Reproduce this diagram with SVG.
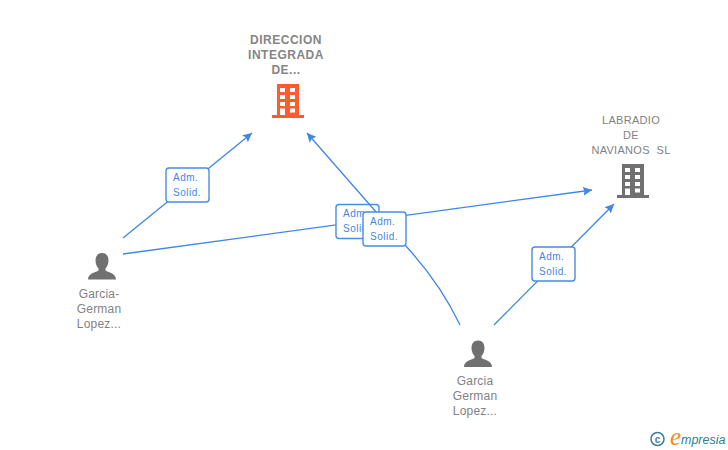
<svg xmlns="http://www.w3.org/2000/svg" width="728" height="450" viewBox="0 0 728 450">
<style>
.e{fill:none;stroke:#3f86e6;stroke-width:1.3}
.b{fill:#fff;stroke:#4a8be6;stroke-width:1.4}
.l{font:10px "Liberation Sans",Arial,sans-serif;fill:#3f86e6;letter-spacing:.5px}
.n{font:12px "Liberation Sans",Arial,sans-serif;fill:#828282;text-anchor:middle;letter-spacing:.2px}
.h{font-weight:700;fill:#858585;letter-spacing:.5px}
.s{font-size:11px;letter-spacing:.3px}
.w{fill:#fff}
</style>
<defs>
<marker id="a" markerUnits="userSpaceOnUse" markerWidth="10" markerHeight="10" refX="9" refY="4.500" orient="auto"><path d="M0 0L9 4.500L0 9L1.500 4.500Z" fill="#3f86e6"/></marker>
<g id="bld"><path d="M5 0H27V31H32V34H0V31H5Z"/><path class="w" d="M8 4h5v4h-5zM18 4h5v4h-5zM8 11h5v4h-5zM18 11h5v4h-5zM8 18h5v4h-5zM18 18h5v4h-5zM8 24.500h5v6.500h-5zM18 24.500h5v4h-5z"/></g>
<path id="p" d="M14 0C18.500 0 20.500 3.500 20.500 7.500C20.500 11 19 14 17.500 15.500V17.500C20 19.500 28 20 28 26.500H0C0 20 8 19.500 10.500 17.500V15.500C9 14 7.500 11 7.500 7.500C7.500 3.500 9.500 0 14 0Z"/>
</defs>
<g id="connectors">
<path class="e" marker-end="url(#a)" d="M123 238L252 133"/>
<path class="e" marker-end="url(#a)" d="M123 254L592 190"/>
<path class="e" marker-end="url(#a)" d="M494 325L614 204"/>
</g>
<g id="label-2"><rect class="b" x="336" y="204.500" width="43" height="34" rx="3"/><text class="l" x="343" y="217">Adm.</text><text class="l" x="343" y="232">Solid.</text></g>
<g id="connectors-over">
<path class="e" marker-end="url(#a)" d="M460 325Q440 283 405 245L307 133"/>
</g>
<g id="label-1"><rect class="b" x="166" y="168" width="43" height="34" rx="3"/><text class="l" x="173" y="181">Adm.</text><text class="l" x="173" y="196">Solid.</text></g>
<g id="label-3"><rect class="b" x="363" y="212" width="43" height="34" rx="3"/><text class="l" x="370" y="225">Adm.</text><text class="l" x="370" y="240">Solid.</text></g>
<g id="label-4"><rect class="b" x="532" y="247" width="43" height="34" rx="3"/><text class="l" x="539" y="260">Adm.</text><text class="l" x="539" y="275">Solid.</text></g>
<g id="node-direccion">
<text class="n h" x="286" y="44">DIRECCION</text><text class="n h" x="286" y="59">INTEGRADA</text><text class="n h" x="286" y="74">DE...</text>
<use href="#bld" x="272" y="84" fill="#ff5c2e"/>
</g>
<g id="node-labradio">
<text class="n s" x="631" y="124">LABRADIO</text><text class="n s" x="631" y="139">DE</text><text class="n s" x="631" y="154" xml:space="preserve">NAVIANOS  SL</text>
<use href="#bld" x="617" y="164" fill="#707070"/>
</g>
<g id="node-person-1">
<use href="#p" x="88" y="253" fill="#707070"/>
<text class="n" x="99" y="298">Garcia-</text><text class="n" x="99" y="313">German</text><text class="n" x="99" y="328">Lopez...</text>
</g>
<g id="node-person-2">
<use href="#p" x="464" y="340.500" fill="#707070"/>
<text class="n" x="475" y="385">Garcia</text><text class="n" x="475" y="400">German</text><text class="n" x="475" y="415">Lopez...</text>
</g>
<g id="logo">
<circle cx="657.500" cy="439" r="6.500" fill="none" stroke="#3f7d93" stroke-width="1.500"/>
<text x="657.500" y="442.500" font-family="'Liberation Sans',sans-serif" font-size="10" font-weight="700" fill="#3f7d93" text-anchor="middle">c</text>
<text x="670" y="445" font-family="'Liberation Serif',serif" font-style="italic" font-size="25" fill="#f08a1c">e</text>
<text x="681" y="444" font-family="'Liberation Sans',sans-serif" font-style="italic" font-size="12.500" fill="#2f7f8f">mpresia</text>
</g>
</svg>
